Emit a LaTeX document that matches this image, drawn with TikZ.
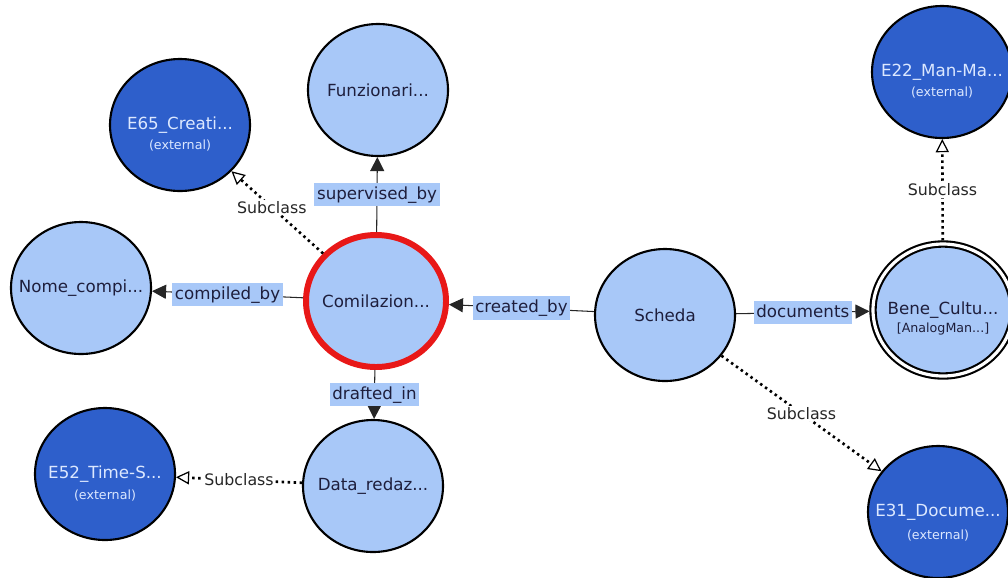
\documentclass[tikz,border=0pt]{standalone}
\usepackage{fontspec}
\setmainfont{DejaVu Sans}
\usetikzlibrary{arrows.meta,shapes.geometric}
\definecolor{clsfill}{HTML}{A8C8F8}
\definecolor{extfill}{HTML}{2E5FCB}
\definecolor{lblfill}{HTML}{A8C8F8}
\definecolor{txtdark}{HTML}{1E1E3C}
\definecolor{txtlight}{HTML}{DCE8FF}
\definecolor{focusred}{HTML}{E81818}
\newcommand{\nm}[1]{\makebox[0pt]{#1}}
\begin{document}
\begin{tikzpicture}[
    cls/.style={ellipse, draw=black, line width=1.2pt, fill=clsfill,
      minimum width=2.8cm, minimum height=2.64cm, inner sep=0pt,
      text=txtdark, font=\fontsize{9.5}{11}\selectfont},
    extcls/.style={cls, fill=extfill, text=txtlight},
    focus/.style={cls, draw=focusred, line width=3.4pt},
    anlg/.style={cls, double=white, double distance=1.8pt, outer sep=2pt},
    sub/.style={inner sep=0pt, text=txtlight, font=\fontsize{7.2}{8}\selectfont},
    rel/.style={draw=black!85, line width=0.6pt,
      -{Triangle[length=8pt, width=8pt]}},
    isa/.style={draw=black, line width=1.5pt, dash pattern=on 1.4pt off 2pt,
      -{Triangle[length=7.5pt, width=7.5pt, line width=0.7pt, fill=white]}},
    rellbl/.style={fill=lblfill, inner sep=1.5pt, text height=8pt, text depth=2.5pt,
      text=txtdark, font=\fontsize{9.5}{11}\selectfont},
    isalbl/.style={fill=white, inner sep=1pt, text=black!85,
      font=\fontsize{9}{11}\selectfont},
  ]
  \useasboundingbox (0,0) rectangle (20.16,-11.54);

  % classes
  \node[focus] (comp) at (7.52,-6.02) {\nm{Comilazion...}};
  \node[cls] (funz) at (7.56,-1.80) {\nm{Funzionari...}};
  \node[cls] (nome) at (1.62,-5.76) {\nm{Nome\_compi...}};
  \node[cls] (data) at (7.46,-9.72) {\nm{Data\_redaz...}};
  \node[cls] (scheda) at (13.30,-6.30) {\nm{Scheda}};
  \node[anlg] (bene) at (18.86,-6.20) {\nm{Bene\_Cultu...}};
  \node[sub, text=txtdark] (benex) at ([yshift=-0.37cm]bene) {[AnalogMan...]};

  % external classes
  \node[extcls] (e65) at (3.60,-2.50) {\nm{E65\_Creati...}};
  \node[sub] (e65x) at ([yshift=-0.42cm]e65) {(external)};
  \node[extcls] (e52) at (2.10,-9.48) {\nm{E52\_Time-S...}};
  \node[sub] (e52x) at ([yshift=-0.44cm]e52) {(external)};
  \node[extcls] (e22) at (18.84,-1.44) {\nm{E22\_Man-Ma...}};
  \node[sub] (e22x) at ([yshift=-0.42cm]e22) {(external)};
  \node[extcls] (e31) at (18.76,-10.24) {\nm{E31\_Docume...}};
  \node[sub] (e31x) at ([yshift=-0.48cm]e31) {(external)};

  % properties
  \draw[rel] (comp) -- node[rellbl]{supervised\_by} (funz);
  \draw[rel] (comp) -- node[rellbl]{compiled\_by} (nome);
  \draw[rel] (scheda) -- node[rellbl]{created\_by} (comp);
  \draw[rel] (comp) -- node[rellbl]{drafted\_in} (data);
  \draw[rel] (scheda) -- node[rellbl]{documents} (bene);

  % subclass links
  \draw[isa] (comp) -- node[isalbl, pos=0.56]{Subclass} (e65);
  \draw[isa] (data) -- node[isalbl]{Subclass} (e52);
  \draw[isa] (bene) -- node[isalbl]{Subclass} (e22);
  \draw[isa] (scheda) -- node[isalbl]{Subclass} (e31);
\end{tikzpicture}
\end{document}
